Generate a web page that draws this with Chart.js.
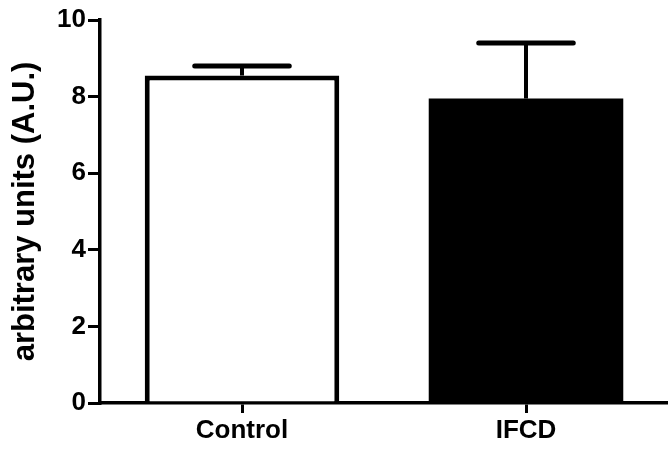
<!DOCTYPE html>
<html>
<head>
<meta charset="utf-8">
<script src="https://cdn.jsdelivr.net/npm/chart.js@4/dist/chart.umd.min.js"></script>
<style>
  html, body { margin: 0; padding: 0; background: #ffffff; }
  #wrap { width: 668px; height: 455px; }
</style>
</head>
<body>
<div id="wrap"><canvas id="c" width="668" height="455"></canvas></div>
<script>
// Group means with their standard errors (upper error bar only)
const categories = ['Control', 'IFCD'];
const means = [8.55, 7.95];
const sems = [0.25, 1.45];
const barColors = ['#ffffff', '#000000'];
// a solid black bar needs no separate outline
const barBorders = [5, 0];
const yTicks = [0, 2, 4, 6, 8, 10];
const yTitle = 'arbitrary units (A.U.)';

const FONT = '"Liberation Sans", Arial, Helvetica, sans-serif';

// Draws an upward error bar (stem + rounded cap) above each bar
const errorBars = {
  id: 'errorBars',
  afterDatasetsDraw(chart) {
    const { ctx, scales: { y } } = chart;
    const meta = chart.getDatasetMeta(0);
    ctx.save();
    ctx.strokeStyle = '#000000';
    meta.data.forEach((bar, i) => {
      const top = y.getPixelForValue(means[i] + sems[i]);
      const base = y.getPixelForValue(means[i]);
      const half = bar.width * 0.243;
      ctx.lineWidth = 4;
      ctx.lineCap = 'butt';
      ctx.beginPath();
      ctx.moveTo(bar.x, base);
      ctx.lineTo(bar.x, top);
      ctx.stroke();
      ctx.lineWidth = 5;
      ctx.lineCap = 'round';
      ctx.beginPath();
      ctx.moveTo(bar.x - half, top);
      ctx.lineTo(bar.x + half, top);
      ctx.stroke();
    });
    ctx.restore();
  }
};

const tickFont = { family: FONT, size: 26, weight: 'bold' };

new Chart(document.getElementById('c'), {
  type: 'bar',
  data: {
    labels: categories,
    datasets: [{
      data: means,
      backgroundColor: barColors,
      borderColor: '#000000',
      borderWidth: barBorders,
      borderSkipped: 'bottom',
      inflateAmount: 0,
      categoryPercentage: 1,
      barPercentage: 0.685
    }]
  },
  options: {
    responsive: false,
    animation: false,
    layout: { padding: { top: 20, right: -4, bottom: 0, left: 0 } },
    plugins: {
      legend: { display: false },
      tooltip: { enabled: false }
    },
    scales: {
      x: {
        type: 'category',
        offset: true,
        grid: {
          display: true,
          drawOnChartArea: false,
          drawTicks: true,
          tickLength: 10,
          lineWidth: 3,
          tickWidth: 3,
          tickColor: '#000000',
          offset: false
        },
        border: { display: true, color: '#000000', width: 3.5 },
        ticks: { color: '#000000', font: tickFont, padding: 2, maxRotation: 0 },
        afterFit(scale) { scale.height = 52; }
      },
      y: {
        min: 0,
        max: 10,
        afterBuildTicks(scale) { scale.ticks = yTicks.map(v => ({ value: v })); },
        grid: {
          drawOnChartArea: false,
          tickLength: 12,
          lineWidth: 3,
          tickWidth: 3,
          tickColor: '#000000'
        },
        border: { display: true, color: '#000000', width: 3.5 },
        ticks: { color: '#000000', font: tickFont, padding: 2 },
        title: {
          display: true,
          text: yTitle,
          color: '#000000',
          font: { family: FONT, size: 31, weight: 'bold', lineHeight: 1.2 },
          padding: { top: 7, bottom: 0 }
        },
        afterFit(scale) { scale.width = 100; }
      }
    }
  },
  plugins: [errorBars]
});
</script>
</body>
</html>
